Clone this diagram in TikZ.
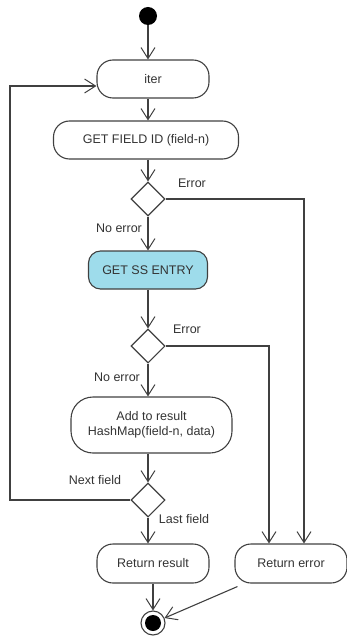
\documentclass[tikz,border=0pt]{standalone}
\usepackage{fontspec}
\setmainfont{Liberation Sans}
\usetikzlibrary{arrows.meta,shapes.geometric}
\definecolor{umlline}{HTML}{404040}
\definecolor{umlblue}{HTML}{9EDCEB}
\begin{document}
\begin{tikzpicture}[x=1pt,y=-1pt,
    every node/.style={font=\fontsize{12.5}{15}\selectfont,text=black!80},
    act/.style={draw=umlline,line width=1.1pt,rounded corners=16pt,inner sep=0pt,minimum height=38pt,align=center},
    choice/.style={draw=umlline,line width=1.1pt,diamond,aspect=1,inner sep=0pt,minimum size=34pt},
    flow/.style={draw=umlline,line width=1.1pt,-{Straight Barb[length=11pt,width=14pt,line width=1pt]}},
    lbl/.style={inner sep=1pt}]
  \useasboundingbox (0,0) rectangle (347,636);
  \node[circle,fill=black,inner sep=0pt,minimum size=18pt] (start) at (148,16) {};
  \node[act,minimum width=112pt] (iter) at (153,79) {iter};
  \node[act,minimum width=185pt] (field) at (146,140) {GET FIELD ID (field-n)};
  \node[choice] (d1) at (148,199) {};
  \node[act,minimum width=119pt,fill=umlblue,rounded corners=12pt] (ss) at (148,270) {GET SS ENTRY};
  \node[choice] (d2) at (148,346) {};
  \node[act,minimum width=161pt,minimum height=56pt,rounded corners=22pt] (add) at (151.5,425) {Add to result\\HashMap(field-n, data)};
  \node[choice] (d3) at (148,500) {};
  \node[act,minimum width=112pt,minimum height=39pt] (res) at (153,563.5) {Return result};
  \node[act,minimum width=112pt,minimum height=39pt] (err) at (291,563.5) {Return error};
  \node[circle,draw=umlline,line width=1.1pt,inner sep=0pt,minimum size=24pt,
    path picture={\fill (path picture bounding box.center) circle (8pt);}] (end) at (153,623) {};
  \coordinate (loop) at (10,86);
  % labels
  \node[lbl] (e1) at (192,183) {Error};
  \node[lbl] (n1) at (119,228) {No error};
  \node[lbl] (e2) at (187,329) {Error};
  \node[lbl] (n2) at (117,377) {No error};
  \node[lbl] (nf) at (95,480) {Next field};
  \node[lbl] (lf) at (184,519) {Last field};
  % flows
  \draw[flow] (start) -- (start |- iter.north);
  \draw[flow] (start |- iter.south) -- (start |- field.north);
  \draw[flow] (field.south -| d1) -- (d1.north);
  \draw[flow] (d1.south) -- (ss.north);
  \draw[flow] (ss.south) -- (d2.north);
  \draw[flow] (d2.south) -- (add.north -| d2);
  \draw[flow] (add.south -| d3) -- (d3.north);
  \draw[flow] (d3.south) -- (res.north -| d3);
  \draw[flow] (res.south) -- (end.north);
  \draw[flow] ([xshift=3pt,yshift=-3pt]err.south west) -- (end);
  \draw[flow] (d1.east) -| ([xshift=13pt]err.north);
  \draw[flow] (d2.east) -| ([xshift=-22pt]err.north);
  \draw[flow] (d3.west) -| (loop) -- (loop -| iter.west);
\end{tikzpicture}
\end{document}
